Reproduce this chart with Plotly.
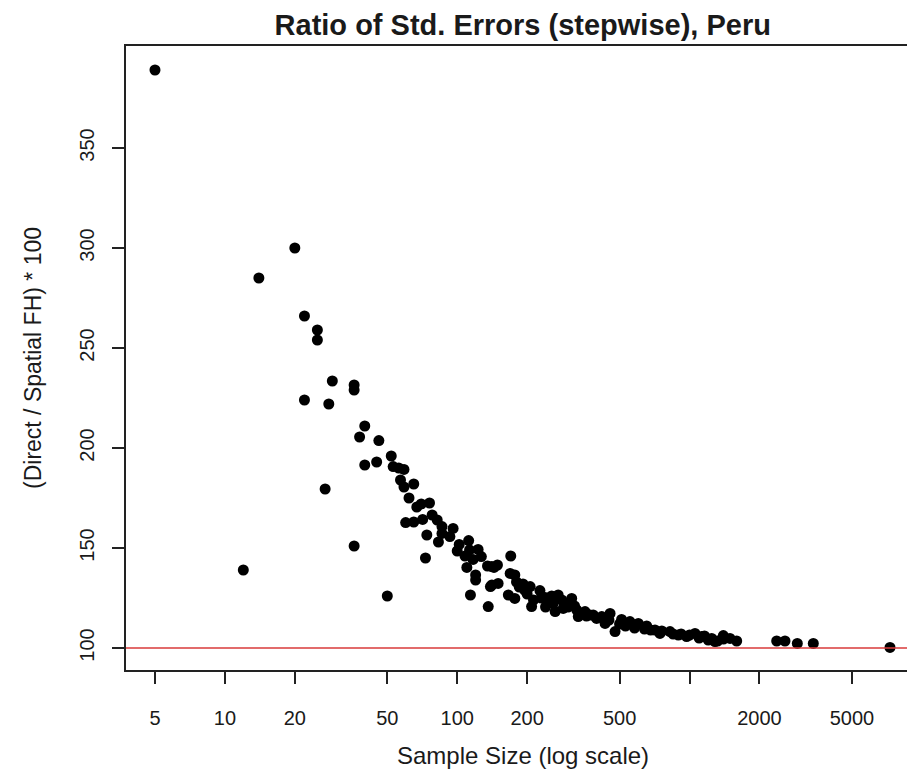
import plotly.graph_objects as go

sample_size = [
    5, 12, 14, 20, 22, 22, 25, 25, 29, 28, 27, 36, 36, 36, 50,
    40, 38, 46, 40, 45, 52, 53, 56, 59, 57, 59, 65, 62, 67, 76,
    60, 65, 71, 78, 82, 74, 83, 73, 70,
    86, 86, 96, 93, 102, 112, 100, 113, 123, 108, 117, 127, 135, 144, 110,
    120, 120, 139, 114, 136,
    141, 149, 150, 141, 169, 177, 180, 192, 206, 227, 166, 177, 213, 209,
    239, 255, 272, 282, 259, 306, 311, 264, 286, 327, 355, 332, 373, 398, 170,
    385, 419, 455, 433, 478, 510, 554, 602, 654, 710, 746, 824, 895, 972,
    1056, 1128, 1204, 1287,
    1246, 1398, 1494, 1596, 2373, 2576, 2911, 3411, 7295,
    290, 300, 320, 340, 360, 250, 230, 200, 195, 185, 240, 450, 500, 530,
    580, 640, 680, 760, 850, 920, 1000, 1100, 1160, 1320, 1400,
]
ratio = [
    389, 139, 285, 300, 266, 224, 259, 254, 233.5, 222, 179.5, 231.5, 229, 151, 126,
    211, 205.5, 203.7, 191.5, 193, 196, 190.7, 190, 189.3, 184, 180.5, 182, 175, 170.5, 172.5,
    162.7, 163, 164.3, 166.5, 164, 156.5, 153, 145, 172,
    160.7, 157.3, 159.8, 155.7, 151.8, 153.7, 148.5, 149, 149.3, 146, 144.3, 145.7, 141, 140.3, 140.3,
    136.5, 134, 130.7, 126.5, 120.7,
    140.7, 141.5, 132.3, 131.5, 137.3, 136.5, 133, 132, 130.7, 128.7, 126.5, 124.8, 124, 120.7,
    125.3, 126, 126.5, 124, 122.3, 122.3, 124.8, 118.2, 119.8, 119, 118.2, 115.7, 116.5, 114.8, 146,
    116.5, 115.7, 117.3, 112.3, 108.2, 114.3, 113.2, 112.3, 111, 109, 107.3, 108.2, 106.5, 105.7,
    107.3, 105.7, 104, 103.2,
    104.8, 106.2, 104.8, 103.5, 103.5, 103.5, 102.3, 102.3, 100.3,
    121, 120.5, 121, 117, 116, 123, 125, 127, 129, 130.5, 120.5, 114, 112, 111,
    110, 109.5, 109, 108.5, 107, 107, 106.5, 105, 106, 103.5, 104.5,
]

x_tickvals = [5, 10, 20, 50, 100, 200, 500, 1000, 2000, 5000]
x_ticktext = ["5", "10", "20", "50", "100", "200", "500", "", "2000", "5000"]
y_tickvals = [100, 150, 200, 250, 300, 350]
reference_level = 100

FONT = "Liberation Sans, Arial, sans-serif"
INK = "#1a1a1a"

fig = go.Figure()
fig.add_trace(go.Scatter(
    x=sample_size, y=ratio, mode="markers",
    marker=dict(color="black", size=11, line=dict(width=0)),
    showlegend=False, hoverinfo="x+y",
))

fig.add_shape(type="line", xref="paper", x0=0, x1=1, yref="y",
              y0=reference_level, y1=reference_level,
              line=dict(color="#d83a3a", width=1.5), layer="above")

fig.add_annotation(text="Sample Size (log scale)", xref="paper", yref="paper",
                   x=0.508, y=-(755 - 670) / 624, xanchor="center", yanchor="middle",
                   showarrow=False, font=dict(size=24, color=INK, family=FONT))
fig.add_annotation(text="(Direct / Spatial FH) * 100", xref="paper", yref="paper",
                   x=(33 - 126) / 781, y=0.5, xanchor="center", yanchor="middle",
                   textangle=-90, showarrow=False,
                   font=dict(size=23, color=INK, family=FONT))

fig.update_layout(
    width=907, height=769,
    margin=dict(l=126, r=0, t=46, b=99),
    paper_bgcolor="white", plot_bgcolor="white",
    font=dict(family=FONT, color=INK, size=20),
    title=dict(text="<b>Ratio of Std. Errors (stepwise), Peru</b>",
               x=0.508, xref="paper", xanchor="center",
               y=1 - 25 / 769, yref="container", yanchor="middle",
               font=dict(size=29, color=INK, family=FONT)),
    xaxis=dict(
        type="log", range=[0.5742, 3.9362],
        tickvals=x_tickvals, ticktext=x_ticktext,
        ticks="outside", ticklen=12, tickwidth=1.5, tickcolor="#222",
        showline=True, linecolor="#222", linewidth=2, mirror=True,
        showgrid=False, zeroline=False,
        ticklabelstandoff=17,
        tickfont=dict(size=20),
    ),
    yaxis=dict(
        range=[89, 401],
        tickvals=y_tickvals,
        tickangle=-90,
        ticks="outside", ticklen=12, tickwidth=1.5, tickcolor="#222",
        showline=True, linecolor="#222", linewidth=2, mirror=False,
        showgrid=False, zeroline=False,
        ticklabelstandoff=10,
        tickfont=dict(size=20),
    ),
)

fig.write_html("out.html")
